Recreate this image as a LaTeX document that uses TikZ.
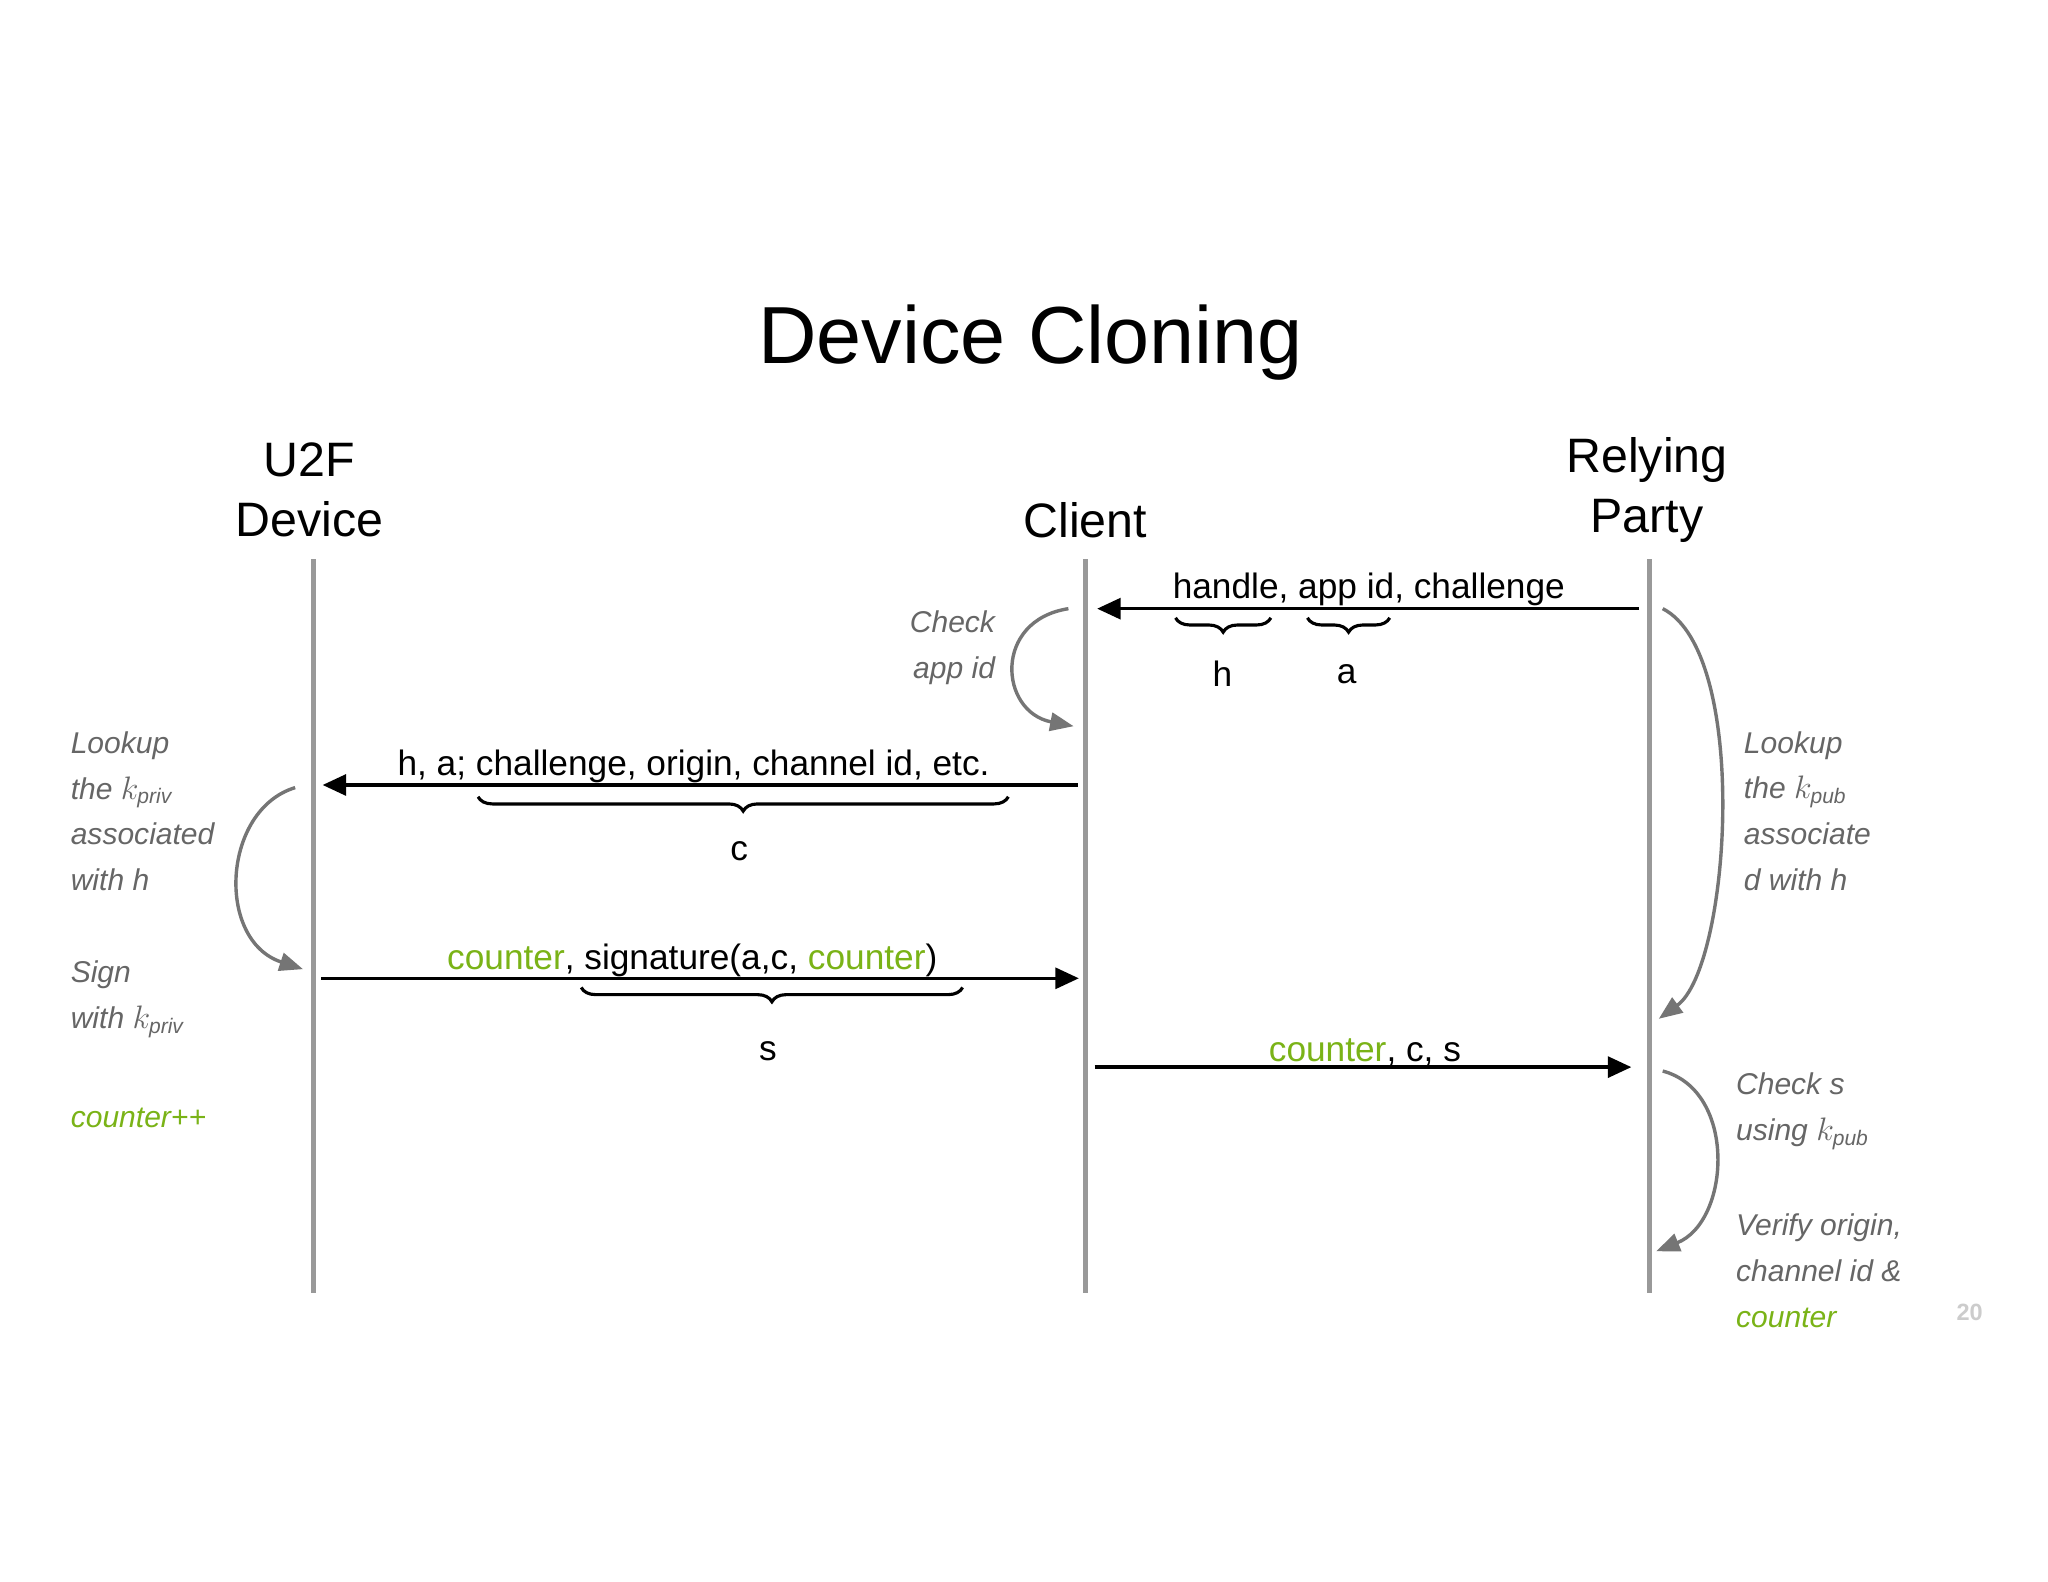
\documentclass[tikz,border=0pt]{standalone}
\usepackage{fontspec}
\setmainfont{Liberation Sans}
\usetikzlibrary{arrows.meta,decorations.pathreplacing}
\definecolor{grn}{HTML}{7AB317}
\definecolor{gtx}{HTML}{666666}
\definecolor{lifec}{HTML}{999999}
\begin{document}
\begin{tikzpicture}[x=1pt,y=-1pt,
  life/.style={draw=lifec,line width=3.5pt},
  msg/.style={draw=black,line width=2.6pt,-{Triangle[length=18pt,width=16pt]}},
  curv/.style={draw=gtx!90,line width=2.6pt,-{Triangle[length=18pt,width=14pt]}},
  brc/.style={draw=black,line width=2.4pt,decorate,decoration={brace,mirror,amplitude=11pt}},
  mtxt/.style={font=\fontsize{27}{30}\selectfont,inner sep=0pt},
  head/.style={font=\fontsize{37}{46}\selectfont,align=center,inner sep=0pt},
  note/.style={font=\fontsize{23}{35}\itshape\selectfont,text=gtx,anchor=west,align=left,inner sep=0pt}]
\useasboundingbox[fill=white] (0,0) rectangle (1568,1211);
\node[font=\fontsize{62}{70}\selectfont] (title) at (789,262) {Device Cloning};
\node[head] (hd) at (237,375) {U2F\\Device};
\node[head] (hc) at (831,398) {Client};
\node[head] (hr) at (1261,375) {Relying\\Party};
\coordinate (dT) at (240,428); \coordinate (dB) at (240,990);
\coordinate (cT) at (831,428); \coordinate (cB) at (831,990);
\coordinate (rT) at (1263,428); \coordinate (rB) at (1263,990);
\draw[life] (dT)--(dB); \draw[life] (cT)--(cB); \draw[life] (rT)--(rB);
% message 1
\coordinate (m1a) at (1255,466); \coordinate (m1b) at (840,466);
\draw[msg] (m1a)--(m1b);
\node[mtxt] (l1) at (1048,451) {handle, app id, challenge};
\draw[brc] (900,473)--(973,473); \node[mtxt] (h) at (936,516) {h};
\draw[brc] (1001,473)--(1064,473); \node[mtxt] (a) at (1031,516) {a};
% message 2
\coordinate (m2a) at (825,601); \coordinate (m2b) at (247,601);
\draw[msg] (m2a)--(m2b);
\node[mtxt] (l2) at (531,587) {h, a; challenge, origin, channel id, etc.};
\draw[brc] (366,610)--(772,610); \node[mtxt] (c) at (566,652) {c};
% message 3
\coordinate (m3a) at (246,749); \coordinate (m3b) at (826,749);
\draw[msg] (m3a)--(m3b);
\node[mtxt] (l3) at (530,735) {\textcolor{grn}{counter}, signature(a,c, \textcolor{grn}{counter})};
\draw[brc] (445,756)--(737,756); \node[mtxt] (s) at (588,805) {s};
% message 4
\coordinate (m4a) at (838,817); \coordinate (m4b) at (1249,817);
\draw[msg] (m4a)--(m4b);
\node[mtxt] (l4) at (1045,806) {\textcolor{grn}{counter}, c, s};
% curved arrows
\coordinate (k1a) at (818,466); \coordinate (k1b) at (822,556);
\draw[curv] (k1a) .. controls (760,475) and (765,545) .. (k1b);
\coordinate (k2a) at (226,603); \coordinate (k2b) at (232,742);
\draw[curv] (k2a) .. controls (170,620) and (165,720) .. (k2b);
\coordinate (k3a) at (1273,466); \coordinate (k3b) at (1270,780);
\draw[curv] (k3a) .. controls (1340,500) and (1325,740) .. (k3b);
\coordinate (k4a) at (1273,820); \coordinate (k4b) at (1268,958);
\draw[curv] (k4a) .. controls (1330,835) and (1325,935) .. (k4b);
% notes
\node[note,anchor=east,align=right] (n0) at (762,496) {Check\\app id};
\node[note] (n1) at (54,621) {Lookup\\the $k_{\mathit{priv}}$\\associated\\with h};
\node[note] (n2) at (54,765) {Sign\\with $k_{\mathit{priv}}$};
\node[note,text=grn] (n3) at (54,856) {counter++};
\node[note] (n4) at (1335,621) {Lookup\\the $k_{\mathit{pub}}$\\associate\\d with h};
\node[note] (n5) at (1329,851) {Check s\\using $k_{\mathit{pub}}$};
\node[note] (n6) at (1329,973) {Verify origin,\\channel id \&\\\textcolor{grn}{counter}};
\node[font=\fontsize{18}{20}\bfseries\selectfont,text=black!20] (pg) at (1508,1005) {20};
\end{tikzpicture}
\end{document}
